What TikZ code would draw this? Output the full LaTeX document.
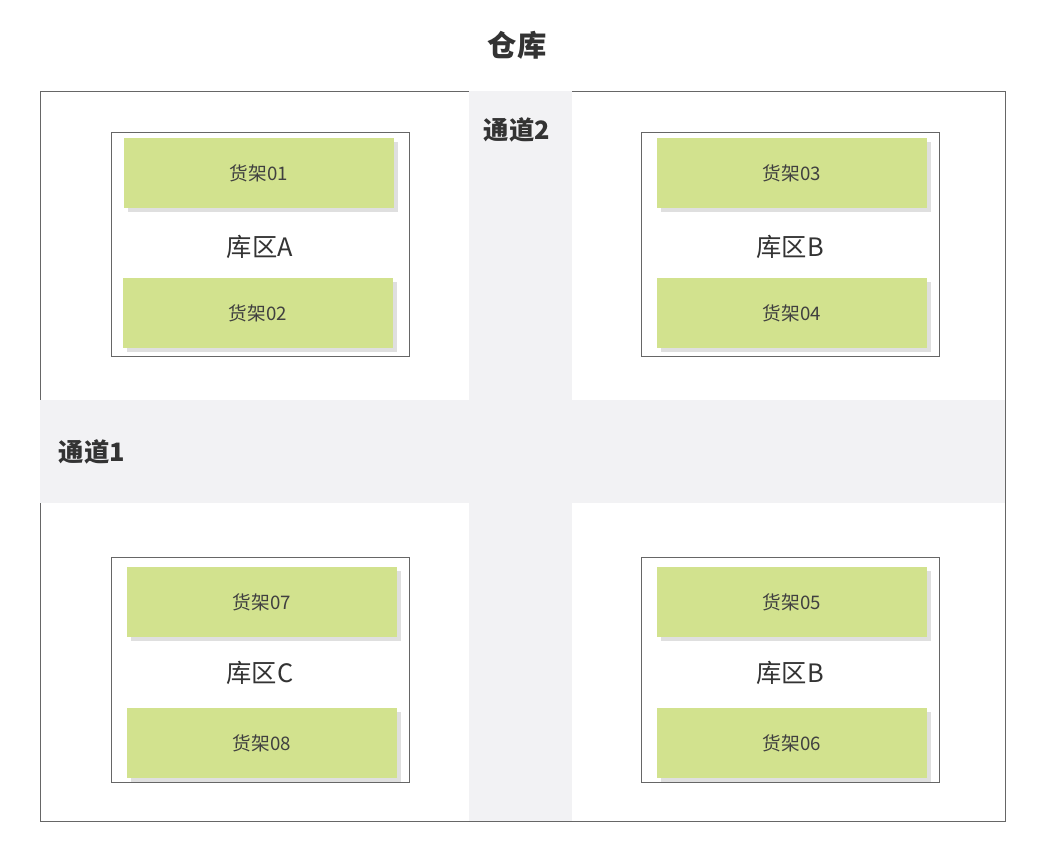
\documentclass[tikz,border=0pt]{standalone}
\usepackage{fontspec}
\setmainfont{Noto Sans CJK SC}
\usetikzlibrary{shadows}
\definecolor{aisle}{HTML}{F2F2F4}
\definecolor{shelfc}{HTML}{D2E28E}
\begin{document}
\begin{tikzpicture}[x=0.75pt,y=-0.75pt,
  shelf/.style={fill=shelfc,draw=none,drop shadow={shadow xshift=3pt,shadow yshift=-3pt,opacity=0.25},minimum width=203pt,minimum height=52pt,inner sep=0pt,font=\fontsize{14}{16}\selectfont,text=black!75},
  zone/.style={draw=black!60,line width=0.6pt},
  zlabel/.style={font=\fontsize{19}{22}\selectfont,text=black!80},
  alabel/.style={font=\bfseries\fontsize{19}{22}\selectfont,text=black!80}]
\useasboundingbox (0,0) rectangle (1046,856);
\fill[white] (0,0) rectangle (1046,856);
\draw[black!60,line width=0.6pt] (40,91) rectangle (1005,821);
\fill[aisle] (469,91) rectangle (572,821);
\fill[aisle] (40,400) rectangle (1005,503);
\node[font=\bfseries\fontsize{22}{26}\selectfont,text=black!80] (title) at (517,45) {仓库};
\node[alabel] (ch2) at (517,130) {通道2};
\node[alabel] (ch1) at (92,452) {通道1};
\draw[zone] (111,132) rectangle (409,356);
\draw[zone] (641,132) rectangle (939,356);
\draw[zone] (111,557) rectangle (409,782);
\draw[zone] (641,557) rectangle (939,782);
\node[shelf] (s01) at (259,173) {货架01};
\node[shelf] (s02) at (258,313) {货架02};
\node[shelf] (s03) at (792,173) {货架03};
\node[shelf] (s04) at (792,313) {货架04};
\node[shelf] (s07) at (262,602) {货架07};
\node[shelf] (s08) at (262,743) {货架08};
\node[shelf] (s05) at (792,602) {货架05};
\node[shelf] (s06) at (792,743) {货架06};
\node[zlabel] (za) at (260,247) {库区A};
\node[zlabel] (zb) at (790,247) {库区B};
\node[zlabel] (zc) at (260,673) {库区C};
\node[zlabel] (zb2) at (790,673) {库区B};
\end{tikzpicture}
\end{document}
